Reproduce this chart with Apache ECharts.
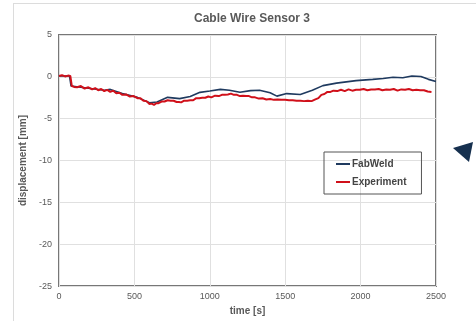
<!DOCTYPE html>
<html><head><meta charset="utf-8">
<script src="https://cdn.jsdelivr.net/npm/echarts@6/dist/echarts.min.js"></script>
<style>html,body{margin:0;padding:0;background:#fff}#c{width:476px;height:321px}</style>
</head><body><div id="c"></div>
<script>
const xTicks = [0, 500, 1000, 1500, 2000, 2500];
const yTicks = [5, 0, -5, -10, -15, -20, -25];

const fabTime = [0, 70, 80, 170, 300, 340, 420, 520, 600, 650, 720, 800, 870, 935, 1000, 1070, 1130, 1200, 1270, 1330, 1400, 1445, 1510, 1600, 1680, 1750, 1840, 1970, 2080, 2150, 2215, 2280, 2340, 2400, 2450, 2500];
const fabWeld = [0.1, 0.1, -1.1, -1.3, -1.6, -1.5, -2.0, -2.45, -3.1, -3.0, -2.45, -2.6, -2.35, -1.85, -1.7, -1.5, -1.6, -1.85, -1.65, -1.6, -1.9, -2.3, -2.0, -2.1, -1.6, -1.05, -0.75, -0.45, -0.3, -0.2, -0.05, -0.1, 0.1, 0.05, -0.3, -0.55];

const expTime = [0, 20, 40, 60, 75, 85, 100, 120, 145, 170, 195, 220, 240, 260, 280, 300, 320, 340, 360, 380, 400, 420, 445, 470, 495, 520, 540, 560, 580, 600, 615, 630, 645, 660, 680, 700, 720, 740, 760, 780, 795, 810, 830, 850, 870, 890, 910, 930, 950, 970, 990, 1010, 1035, 1060, 1080, 1100, 1120, 1140, 1160, 1180, 1200, 1220, 1240, 1260, 1280, 1300, 1325, 1350, 1375, 1400, 1425, 1450, 1475, 1500, 1525, 1550, 1575, 1600, 1625, 1650, 1675, 1700, 1720, 1740, 1760, 1780, 1800, 1820, 1845, 1870, 1895, 1920, 1945, 1970, 1995, 2020, 2045, 2070, 2095, 2120, 2145, 2170, 2195, 2220, 2245, 2270, 2295, 2320, 2345, 2370, 2395, 2420, 2445, 2470];
const experiment = [0.1, 0.2, 0.05, 0.15, 0.1, -1.1, -1.2, -1.25, -1.1, -1.4, -1.25, -1.5, -1.35, -1.6, -1.45, -1.7, -1.55, -1.8, -1.65, -1.95, -1.9, -2.15, -2.1, -2.35, -2.3, -2.55, -2.55, -2.85, -2.9, -3.25, -3.2, -3.35, -3.15, -3.15, -2.95, -2.95, -2.8, -2.85, -2.85, -3.0, -3.0, -3.05, -2.85, -2.85, -2.8, -2.8, -2.55, -2.55, -2.5, -2.5, -2.35, -2.45, -2.25, -2.3, -2.15, -2.15, -2.1, -2.0, -2.15, -2.15, -2.3, -2.25, -2.3, -2.3, -2.45, -2.45, -2.6, -2.55, -2.7, -2.65, -2.75, -2.7, -2.75, -2.75, -2.8, -2.8, -2.85, -2.85, -2.9, -2.85, -2.9, -2.7, -2.55, -2.15, -2.05, -1.8, -1.8, -1.65, -1.7, -1.55, -1.7, -1.5, -1.65, -1.55, -1.55, -1.45, -1.6, -1.5, -1.5, -1.45, -1.6, -1.5, -1.55, -1.45, -1.65, -1.5, -1.55, -1.45, -1.6, -1.55, -1.6, -1.6, -1.75, -1.8];

const fabData = fabTime.map((t, i) => [t, fabWeld[i]]);
const expData = expTime.map((t, i) => [t, experiment[i]]);

const chart = echarts.init(document.getElementById('c'), null, {renderer: 'canvas'});
const textCol = '#595959';
chart.setOption({
  animation: false,
  backgroundColor: '#fff',
  title: {
    text: 'Cable Wire Sensor 3', left: 247, top: 8, textAlign: 'center',
    textStyle: {fontFamily: 'Liberation Sans, Arial', fontSize: 12, fontWeight: 'bold', color: textCol}
  },
  grid: {left: 59, right: 40, top: 35, bottom: 31, show: true, borderColor: '#777', borderWidth: 2, backgroundColor: 'transparent'},
  legend: {
    orient: 'vertical', left: 324, top: 152,
    padding: [7, 15, 7, 12], itemGap: 8,
    borderColor: '#555', borderWidth: 1,
    itemWidth: 14, itemHeight: 2, icon: 'rect',
    textStyle: {fontFamily: 'Liberation Sans, Arial', fontSize: 10, fontWeight: 'bold', color: '#444', padding: [0, 0, 0, -3]},
    data: ['FabWeld', 'Experiment']
  },
  xAxis: {
    type: 'value', min: 0, max: 2500, interval: 500,
    name: 'time [s]', nameLocation: 'middle', nameGap: 18,
    nameTextStyle: {fontFamily: 'Liberation Sans, Arial', fontSize: 10, fontWeight: 'bold', color: textCol},
    axisLine: {show: false}, axisTick: {show: false},
    axisLabel: {fontFamily: 'Liberation Sans, Arial', fontSize: 9, color: textCol, margin: 6, formatter: v => String(v)},
    splitLine: {lineStyle: {color: '#e0e0e0', width: 1}}
  },
  yAxis: {
    type: 'value', min: -25, max: 5, interval: 5,
    name: 'displacement [mm]', nameLocation: 'middle', nameGap: 20, nameRotate: 90,
    nameTextStyle: {fontFamily: 'Liberation Sans, Arial', fontSize: 10, fontWeight: 'bold', color: textCol},
    axisLine: {show: false}, axisTick: {show: false},
    axisLabel: {fontFamily: 'Liberation Sans, Arial', fontSize: 9, color: textCol, margin: 7, formatter: v => String(v)},
    splitLine: {lineStyle: {color: '#e0e0e0', width: 1}}
  },
  series: [
    {name: 'FabWeld', type: 'line', data: fabData, showSymbol: false, color: '#1f3a5f', lineStyle: {width: 1.6, color: '#1f3a5f'}, z: 2},
    {name: 'Experiment', type: 'line', data: expData, showSymbol: false, color: '#d0101a', lineStyle: {width: 2, color: '#d0101a'}, z: 3}
  ],
  graphic: [
    {type: 'line', shape: {x1: 13.5, y1: 3, x2: 13.5, y2: 321}, style: {stroke: '#dcdcdc', lineWidth: 1}},
    {type: 'line', shape: {x1: 13, y1: 3.5, x2: 476, y2: 3.5}, style: {stroke: '#dcdcdc', lineWidth: 1}},
    {type: 'polygon', shape: {points: [[453, 148], [473, 142], [469, 162]]}, style: {fill: '#16304f'}}
  ]
});
</script></body></html>
